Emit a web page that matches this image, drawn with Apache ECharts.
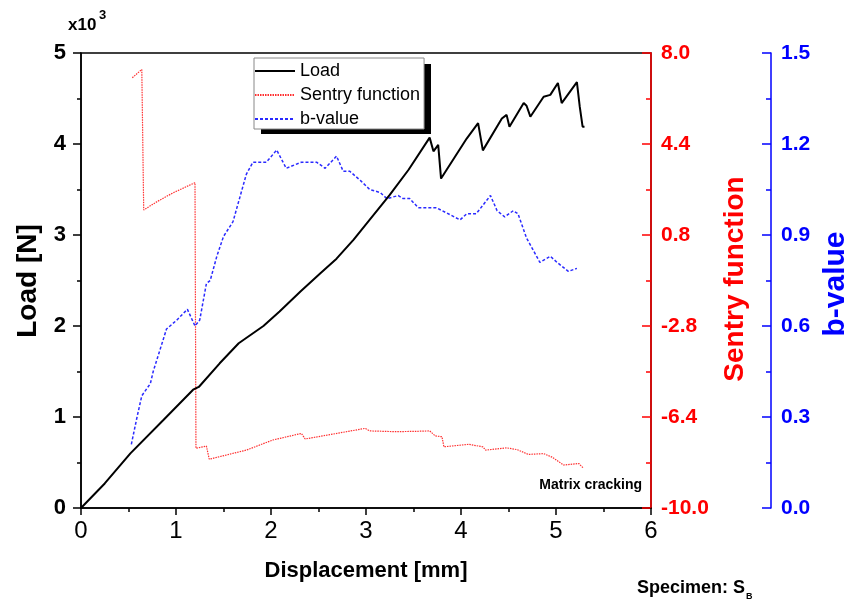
<!DOCTYPE html>
<html>
<head>
<meta charset="utf-8">
<script src="https://cdn.jsdelivr.net/npm/echarts@6/dist/echarts.min.js"></script>
<style>
html,body{margin:0;padding:0;background:#fff;}
#chart{width:849px;height:603px;}
</style>
</head>
<body>
<div id="chart"></div>
<script>
// ---- Data ----
const seriesNames = ['Load', 'Sentry function', 'b-value'];

// Load [N] (x10^3) vs displacement [mm]
const loadX = [0, 0.25, 0.52, 0.87, 1.18, 1.24, 1.46, 1.66, 1.92, 2.09, 2.31, 2.52, 2.69, 2.87, 3.01, 3.25, 3.45, 3.67, 3.71, 3.76, 3.79, 4.06, 4.18, 4.23, 4.43, 4.48, 4.51, 4.66, 4.69, 4.73, 4.87, 4.94, 5.02, 5.06, 5.22, 5.25, 5.28, 5.30];
const loadY = [0, 0.27, 0.60, 0.97, 1.30, 1.33, 1.59, 1.81, 2.00, 2.16, 2.38, 2.58, 2.74, 2.95, 3.13, 3.44, 3.72, 4.07, 3.92, 3.99, 3.62, 4.06, 4.23, 3.93, 4.28, 4.32, 4.19, 4.45, 4.42, 4.30, 4.52, 4.54, 4.67, 4.45, 4.68, 4.41, 4.19, 4.19];

// Sentry function
const sentryX = [0.54, 0.64, 0.66, 0.80, 0.97, 1.20, 1.21, 1.32, 1.35, 1.74, 2.02, 2.32, 2.36, 2.99, 3.04, 3.30, 3.50, 3.67, 3.73, 3.80, 3.82, 4.08, 4.23, 4.26, 4.48, 4.59, 4.71, 4.87, 4.96, 5.08, 5.24, 5.29];
const sentryY = [7.02, 7.35, 1.79, 2.12, 2.47, 2.87, -7.64, -7.55, -8.07, -7.71, -7.31, -7.05, -7.27, -6.85, -6.95, -6.98, -6.97, -6.95, -7.15, -7.18, -7.58, -7.48, -7.58, -7.71, -7.62, -7.69, -7.88, -7.85, -7.99, -8.30, -8.24, -8.43];

// b-value
const bX = [0.53, 0.59, 0.64, 0.73, 0.76, 0.90, 1.01, 1.12, 1.20, 1.25, 1.32, 1.36, 1.43, 1.50, 1.60, 1.74, 1.81, 1.95, 2.06, 2.16, 2.32, 2.48, 2.57, 2.69, 2.76, 2.83, 2.94, 3.04, 3.15, 3.22, 3.34, 3.39, 3.46, 3.55, 3.74, 3.99, 4.06, 4.16, 4.31, 4.38, 4.46, 4.55, 4.60, 4.69, 4.83, 4.94, 5.01, 5.13, 5.22];
const bY = [0.21, 0.30, 0.37, 0.41, 0.45, 0.59, 0.62, 0.655, 0.60, 0.62, 0.74, 0.75, 0.83, 0.895, 0.944, 1.10, 1.14, 1.14, 1.18, 1.12, 1.14, 1.14, 1.12, 1.16, 1.11, 1.11, 1.08, 1.05, 1.04, 1.02, 1.03, 1.02, 1.02, 0.99, 0.99, 0.95, 0.97, 0.97, 1.03, 0.98, 0.96, 0.98, 0.97, 0.89, 0.81, 0.83, 0.81, 0.78, 0.79];

// Axis settings
const xTicks = {min: 0, max: 6, interval: 1};
const loadTicks = {min: 0, max: 5, interval: 1};
const sentryTicks = {min: -10, max: 8, interval: 3.6};
const bTicks = {min: 0, max: 1.5, interval: 0.3};

// ---- Chart ----
const FONT = '"Liberation Sans", Arial, Helvetica, sans-serif';
const pair = (xs, ys) => xs.map((x, i) => [x, ys[i]]);

const chart = echarts.init(document.getElementById('chart'), null, {renderer: 'canvas'});

const option = {
  backgroundColor: '#fff',
  animation: false,
  grid: {left: 81, right: 198, top: 53, bottom: 95, show: true, borderColor: '#000', borderWidth: 1.5, backgroundColor: 'transparent'},
  legend: {
    data: seriesNames,
    orient: 'vertical',
    left: 254, top: 58,
    itemWidth: 40, itemHeight: 12, itemGap: 6,
    padding: [4, 4, 1, 0],
    backgroundColor: '#fff',
    borderColor: '#888', borderWidth: 1,
    itemStyle: {opacity: 0},
    textStyle: {fontFamily: FONT, fontSize: 18, color: '#000'},
    z: 10
  },
  xAxis: {
    type: 'value', min: xTicks.min, max: xTicks.max, interval: xTicks.interval,
    axisLine: {show: true, lineStyle: {color: '#000', width: 1.5}},
    axisTick: {show: true, length: 7, lineStyle: {color: '#000', width: 1.5}},
    minorTick: {show: true, splitNumber: 2, length: 4, lineStyle: {color: '#000', width: 1.5}},
    splitLine: {show: false},
    axisLabel: {fontFamily: FONT, fontSize: 24, color: '#000', margin: 11},
    name: ''
  },
  yAxis: [
    {
      type: 'value', position: 'left', min: loadTicks.min, max: loadTicks.max, interval: loadTicks.interval,
      axisLine: {show: true, lineStyle: {color: '#000', width: 1.5}},
      axisTick: {show: true, length: 8, lineStyle: {color: '#000', width: 1.5}},
      minorTick: {show: true, splitNumber: 2, length: 4, lineStyle: {color: '#000', width: 1.5}},
      splitLine: {show: false},
      axisLabel: {fontFamily: FONT, fontSize: 22, fontWeight: 'bold', color: '#000', margin: 15}
    },
    {
      type: 'value', position: 'right', offset: 0, min: sentryTicks.min, max: sentryTicks.max, interval: sentryTicks.interval,
      axisLine: {show: true, lineStyle: {color: '#ff0000', width: 1.5}},
      axisTick: {show: true, inside: true, length: 9, lineStyle: {color: '#ff0000', width: 1.5}},
      minorTick: {show: true, splitNumber: 2, length: 5, lineStyle: {color: '#ff0000', width: 1.5}},
      splitLine: {show: false},
      axisLabel: {fontFamily: FONT, fontSize: 21, fontWeight: 'bold', color: '#ff0000', margin: 10,
        formatter: v => (Math.round(v * 10) / 10).toFixed(1)}
    },
    {
      type: 'value', position: 'right', offset: 120, min: bTicks.min, max: bTicks.max, interval: bTicks.interval,
      axisLine: {show: true, lineStyle: {color: '#0000ff', width: 1.5}},
      axisTick: {show: true, inside: true, length: 9, lineStyle: {color: '#0000ff', width: 1.5}},
      minorTick: {show: true, splitNumber: 2, length: 5, lineStyle: {color: '#0000ff', width: 1.5}},
      splitLine: {show: false},
      axisLabel: {fontFamily: FONT, fontSize: 21, fontWeight: 'bold', color: '#0000ff', margin: 10,
        formatter: v => (Math.round(v * 10) / 10).toFixed(1)}
    }
  ],
  series: [
    {
      name: seriesNames[0], type: 'line', yAxisIndex: 0, data: pair(loadX, loadY),
      symbol: 'none', color: '#000', lineStyle: {color: '#000', width: 2}, z: 4
    },
    {
      name: seriesNames[1], type: 'line', yAxisIndex: 1, data: pair(sentryX, sentryY),
      symbol: 'none', color: '#ff3030', lineStyle: {color: '#ff3030', width: 1.2, type: [1.5, 1]}, z: 3
    },
    {
      name: seriesNames[2], type: 'line', yAxisIndex: 2, data: pair(bX, bY),
      symbol: 'none', color: '#2a2aff', lineStyle: {color: '#2a2aff', width: 1.5, type: [3, 2]}, z: 3
    }
  ],
  graphic: [
    // legend drop shadow
    {type: 'rect', z: 5, shape: {x: 261, y: 64, width: 170, height: 70}, style: {fill: '#000'}},
    {type: 'text', x: 28.5, y: 281, rotation: Math.PI / 2,
     style: {text: 'Load [N]', font: 'bold 28px ' + FONT, fill: '#000', align: 'center', verticalAlign: 'middle'}},
    {type: 'text', x: 735, y: 279, rotation: Math.PI / 2,
     style: {text: 'Sentry function', font: 'bold 28px ' + FONT, fill: '#ff0000', align: 'center', verticalAlign: 'middle'}},
    {type: 'text', x: 836, y: 284, rotation: Math.PI / 2,
     style: {text: 'b-value', font: 'bold 30px ' + FONT, fill: '#0000ff', align: 'center', verticalAlign: 'middle'}},
    {type: 'text', x: 366, y: 571,
     style: {text: 'Displacement [mm]', font: 'bold 22px ' + FONT, fill: '#000', align: 'center', verticalAlign: 'middle'}},
    {type: 'text', x: 68, y: 25,
     style: {text: 'x10', font: 'bold 17px ' + FONT, fill: '#000', align: 'left', verticalAlign: 'middle'}},
    {type: 'text', x: 99, y: 15,
     style: {text: '3', font: 'bold 13px ' + FONT, fill: '#000', align: 'left', verticalAlign: 'middle'}},
    {type: 'text', x: 642, y: 485,
     style: {text: 'Matrix cracking', font: 'bold 14px ' + FONT, fill: '#000', align: 'right', verticalAlign: 'middle'}},
    {type: 'text', x: 637, y: 588,
     style: {text: 'Specimen: S', font: 'bold 18px ' + FONT, fill: '#000', align: 'left', verticalAlign: 'middle'}},
    {type: 'text', x: 746, y: 597,
     style: {text: 'B', font: 'bold 9px ' + FONT, fill: '#000', align: 'left', verticalAlign: 'middle'}}
  ]
};
chart.setOption(option);
</script>
</body>
</html>
